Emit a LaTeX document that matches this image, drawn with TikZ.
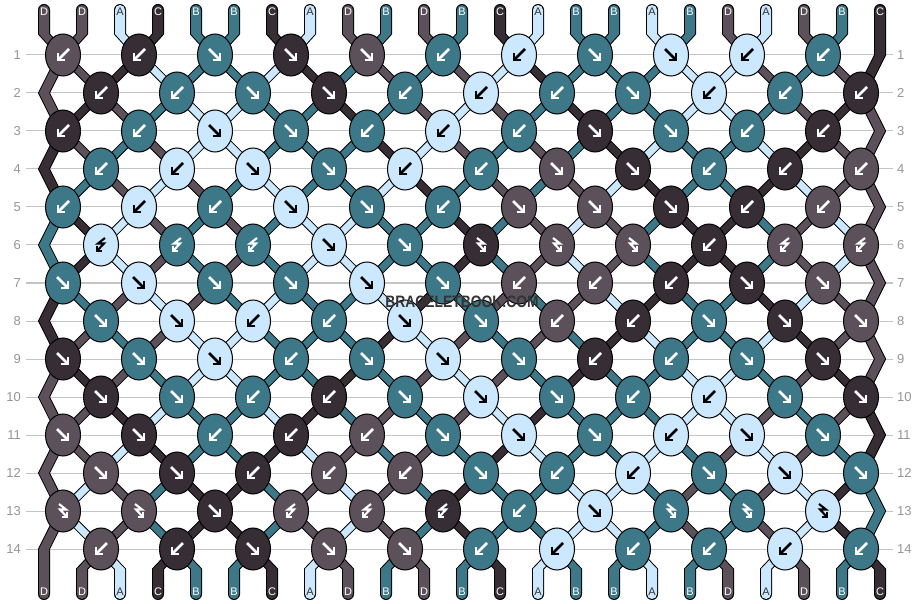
\documentclass[tikz,border=0pt]{standalone}
\usepackage{fontspec}
\setmainfont{Liberation Sans}

\definecolor{colA}{RGB}{204,232,254}
\definecolor{colB}{RGB}{61,120,137}
\definecolor{colC}{RGB}{55,45,52}
\definecolor{colD}{RGB}{92,81,90}
\definecolor{guidegrey}{RGB}{196,196,196}
\definecolor{numgrey}{RGB}{150,150,150}

% thread bookkeeping
\newcommand\threadat[1]{\csname bbpos#1\endcsname}
\newcommand\threadcol[1]{\csname bbcol#1\endcsname}
\newcommand\setthread[2]{\expandafter\xdef\csname bbpos#1\endcsname{#2}}
\newcommand\addpoint[3]{%
  \pgfmathsetmacro\ptl{#2-5}\pgfmathsetmacro\ptr{#2+5}%
  \expandafter\xdef\csname bbleft#1\endcsname{\csname bbleft#1\endcsname -- (\ptl,#3)}%
  \expandafter\xdef\csname bbright#1\endcsname{(\ptr,#3) -- \csname bbright#1\endcsname}}
\def\kA{A}\def\kF{F}\def\kB{B}\def\kX{X}\def\kY{Y}

\begin{document}
\begin{tikzpicture}
  [
    x=1pt, y=-1pt,
    guide/.style={draw=guidegrey, line width=1pt},
    rownum/.style={text=numgrey, font=\fontsize{13}{13}\selectfont, inner sep=0pt},
    strandedge/.style={fill=black, draw=black, line width=2pt, line join=round},
    tag/.style={font=\fontsize{11}{11}\selectfont, inner sep=0pt},
    knot/.style={draw=black, line width=1pt},
    sym/.style={line width=2.6pt, line join=miter, line cap=butt},
    hook/.style={line width=2.1pt, line join=miter, line cap=butt},
    watermark/.style={font=\bfseries\fontsize{16.5}{16.5}\selectfont, text=black!80,
      xscale=.84, transform shape, inner sep=0pt}
  ]
  \useasboundingbox (0,0) rectangle (924,604);
  \fill[white] (0,0) rectangle (924,604);

  % threads at the top
  \foreach \cl [count=\thr from 0] in {D,D,A,C,B,B,C,A,D,B,D,B,C,A,B,B,A,B,D,A,D,B,C} {
    \pgfmathtruncatemacro\sx{44+38*\thr}
    \expandafter\xdef\csname bbcol\thr\endcsname{\cl}
    \setthread{\thr}{\thr}
    \pgfmathsetmacro\ptl{\sx-5}\pgfmathsetmacro\ptr{\sx+5}
    \expandafter\xdef\csname bbleft\thr\endcsname{(\ptl,10)}
    \expandafter\xdef\csname bbright\thr\endcsname{(\ptr,10)}
    \addpoint{\thr}{\sx}{34}
  }

  % knot rows: F forward, B backward, Y forward-backward, X backward-forward
  \foreach \rw/\types in {
    1/{B,B,F,F,F,B,B,F,F,B,B},
    2/{B,B,F,F,B,B,B,F,B,B,B},
    3/{B,B,F,F,B,B,B,F,F,B,B},
    4/{B,B,F,F,B,B,F,F,B,B,B},
    5/{B,B,B,F,F,B,F,F,F,B,B},
    6/{X,X,X,F,F,Y,Y,Y,B,X,X},
    7/{F,F,F,F,F,F,B,B,B,F,F},
    8/{F,F,B,B,F,F,B,B,F,F,F},
    9/{F,F,F,B,F,F,F,B,B,F,F},
    10/{F,F,B,B,F,F,F,B,B,F,F},
    11/{F,F,B,B,B,F,F,F,B,F,F},
    12/{F,F,B,B,B,F,B,B,F,F,F},
    13/{Y,Y,F,X,X,X,B,F,Y,Y,Y},
    14/{B,B,F,F,F,B,B,B,B,B,B}} {
    \pgfmathtruncatemacro\ky{55+38*(\rw-1)}
    \pgfmathtruncatemacro\oddrow{mod(\rw,2)}
    \ifnum\oddrow=1 \def\edgepos{22}\def\edgex{880}\else\def\edgepos{0}\def\edgex{44}\fi
    \edef\tedge{\threadat{\edgepos}}
    \addpoint{\tedge}{\edgex}{\ky}
    \foreach \kt [count=\kn from 0] in \types {
      \edef\ktype{\kt}
      \pgfmathtruncatemacro\posl{2*\kn+1-\oddrow}
      \pgfmathtruncatemacro\posr{\posl+1}
      \pgfmathtruncatemacro\kx{63+38*\posl}
      \edef\tleft{\threadat{\posl}}
      \edef\tright{\threadat{\posr}}
      \addpoint{\tleft}{\kx}{\ky}
      \addpoint{\tright}{\kx}{\ky}
      \ifx\ktype\kF \edef\kc{\threadcol{\tleft}}\setthread{\posl}{\tright}\setthread{\posr}{\tleft}\fi
      \ifx\ktype\kB \edef\kc{\threadcol{\tright}}\setthread{\posl}{\tright}\setthread{\posr}{\tleft}\fi
      \ifx\ktype\kY \edef\kc{\threadcol{\tleft}}\fi
      \ifx\ktype\kX \edef\kc{\threadcol{\tright}}\fi
      \expandafter\xdef\csname bbknot\rw-\kn\endcsname{\kc}
      \expandafter\xdef\csname bbtype\rw-\kn\endcsname{\ktype}
    }
  }

  % threads at the bottom
  \foreach \ps in {0,...,22} {
    \edef\thr{\threadat{\ps}}
    \pgfmathtruncatemacro\sx{44+38*\ps}
    \addpoint{\thr}{\sx}{569}
    \addpoint{\thr}{\sx}{594}
    \expandafter\xdef\csname bbend\thr\endcsname{\sx}
  }

  % row guides
  \foreach \rw in {1,...,14} {
    \pgfmathtruncatemacro\ky{55+38*(\rw-1)}
    \draw[guide] (26,\ky) -- (893,\ky);
    \node[rownum, anchor=east] (numL\rw) at (21,\ky) {\rw};
    \node[rownum, anchor=west] (numR\rw) at (897,\ky) {\rw};
  }

  % strands, outline first
  \foreach \thr in {0,...,22} {
    \pgfmathtruncatemacro\sx{44+38*\thr}
    \edef\endx{\csname bbend\thr\endcsname}
    \fill[black] (\sx,10) circle (6) (\endx,594) circle (6);
    \edef\strand{\noexpand\filldraw[strandedge] \csname bbleft\thr\endcsname
      -- \csname bbright\thr\endcsname -- cycle;}
    \strand
  }
  \foreach \thr in {0,...,22} {
    \pgfmathtruncatemacro\sx{44+38*\thr}
    \edef\endx{\csname bbend\thr\endcsname}
    \edef\cl{\threadcol{\thr}}
    \fill[col\cl] (\sx,10) circle (5) (\endx,594) circle (5);
    \edef\strand{\noexpand\fill[col\cl] \csname bbleft\thr\endcsname
      -- \csname bbright\thr\endcsname -- cycle;}
    \strand
  }

  % thread letters
  \foreach \ps in {0,...,22} {
    \pgfmathtruncatemacro\sx{44+38*\ps}
    \edef\lc{\threadcol{\ps}}
    \ifx\lc\kA \def\tagcol{black!80}\else\def\tagcol{white}\fi
    \node[tag, text=\tagcol] (top\ps) at (\sx,12) {\lc};
    \edef\lc{\threadcol{\threadat{\ps}}}
    \ifx\lc\kA \def\tagcol{black!80}\else\def\tagcol{white}\fi
    \node[tag, text=\tagcol] (bot\ps) at (\sx,592) {\lc};
  }

  % knots
  \foreach \rw in {1,...,14} {
    \pgfmathtruncatemacro\ky{55+38*(\rw-1)}
    \pgfmathtruncatemacro\oddrow{mod(\rw,2)}
    \foreach \kn in {0,...,10} {
      \pgfmathtruncatemacro\kx{63+76*\kn+38*(1-\oddrow)}
      \edef\kc{\csname bbknot\rw-\kn\endcsname}
      \edef\ktype{\csname bbtype\rw-\kn\endcsname}
      \ifx\kc\kA \def\symcol{black}\else\def\symcol{white}\fi
      \draw[knot, fill=col\kc] (\kx,\ky) ellipse [x radius=17.5, y radius=21];
      \begin{scope}[shift={(\kx,\ky)}, color=\symcol]
        \ifx\ktype\kF
          \draw[sym] (-6,-6) -- (5,5);
          \draw[sym] (5,-2) -- (5,5) -- (-2,5);
        \fi
        \ifx\ktype\kB
          \draw[sym] (6,-6) -- (-5,5);
          \draw[sym] (-5,-2) -- (-5,5) -- (2,5);
        \fi
        \ifx\ktype\kY
          \draw[hook] (-4,-7) -- (3,-1.5) -- (-3,-1.5) -- (4,6);
          \draw[hook] (4,1) -- (4,6) -- (-1,6);
        \fi
        \ifx\ktype\kX
          \draw[hook] (4,-7) -- (-3,-1.5) -- (3,-1.5) -- (-4,6);
          \draw[hook] (-4,1) -- (-4,6) -- (1,6);
        \fi
      \end{scope}
    }
  }

  \node[watermark] (mark) at (462,302) {BRACELETBOOK.COM};
\end{tikzpicture}
\end{document}
